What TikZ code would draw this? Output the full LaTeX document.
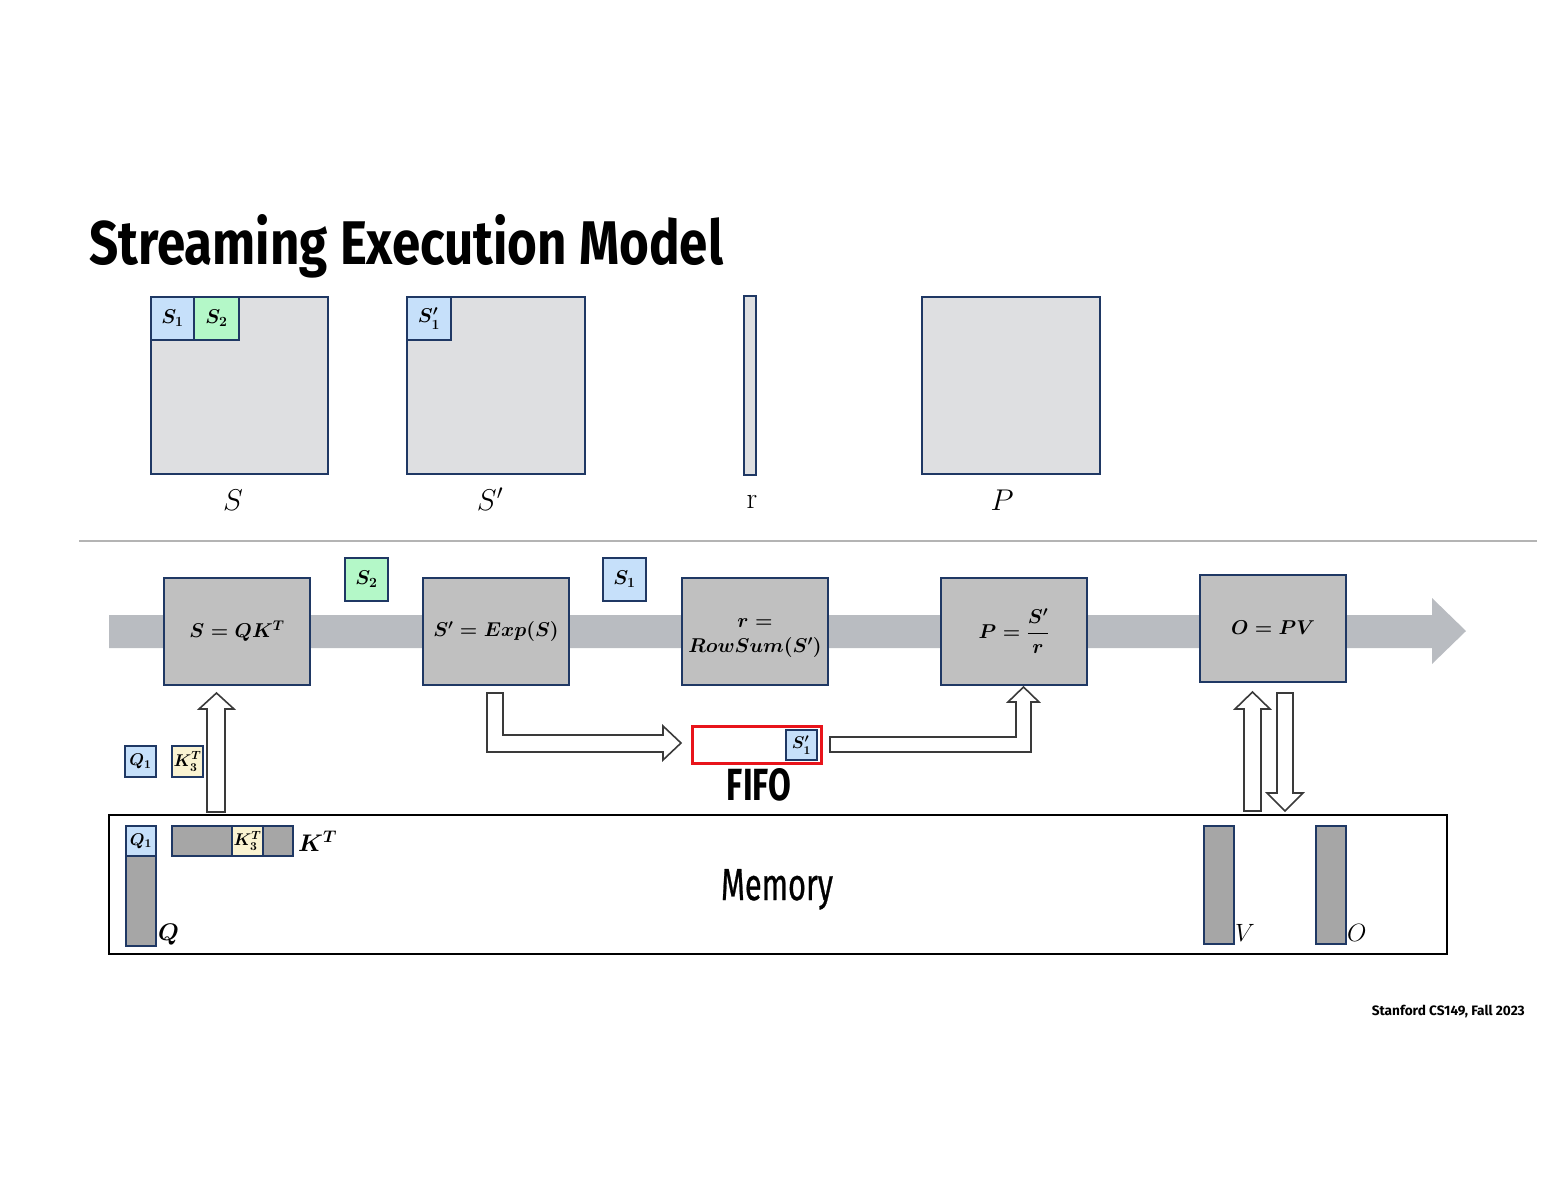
\RequirePackage{fix-cm}
\documentclass[tikz,border=0pt]{standalone}
\usepackage{fontspec}
\usepackage{amsmath}
\usepackage{bm}
\usepackage{graphicx}
\newfontfamily\condfont{Fira Sans}
\newfontfamily\condmed[FakeBold=0.8]{Fira Sans}
\usetikzlibrary{calc}
\definecolor{navy}{HTML}{1F3864}
\definecolor{matfill}{HTML}{DEDFE1}
\definecolor{opfill}{HTML}{C0C0C0}
\definecolor{colfill}{HTML}{A6A6A6}
\definecolor{tokblue}{HTML}{C6E0FA}
\definecolor{tokgreen}{HTML}{B4F8C8}
\definecolor{tokyellow}{HTML}{FAF3D2}
\definecolor{flowgray}{HTML}{B9BCC1}
\definecolor{sepgray}{HTML}{B4B4B4}
\definecolor{fifored}{HTML}{E8141B}
\definecolor{arrowline}{HTML}{3A3A3A}
\begin{document}
\begin{tikzpicture}[x=1pt,y=-1pt,
  mat/.style={draw=navy, line width=2pt, fill=matfill, inner sep=0pt, anchor=north west},
  tok/.style={draw=navy, line width=2pt, inner sep=0pt, anchor=north west,
     font=\boldmath\fontsize{20}{22}\selectfont},
  smalltok/.style={tok, font=\boldmath\fontsize{17}{20}\selectfont},
  col/.style={draw=navy, line width=2pt, fill=colfill, inner sep=0pt, anchor=north west},
  op/.style={draw=navy, line width=2pt, fill=opfill, inner sep=0pt,
     minimum width=146pt, minimum height=107pt, align=center,
     font=\boldmath\fontsize{20}{24}\selectfont},
  optext/.style={inner sep=0pt, align=center, font=\boldmath\fontsize{20}{24}\selectfont},
  harrow/.style={draw=arrowline, line width=1.6pt, fill=white, line join=miter},
  biglabel/.style={font=\fontsize{30}{34}\selectfont, anchor=base, inner sep=0pt},
  memlabel/.style={font=\boldmath\fontsize{24}{28}\selectfont, anchor=base west, inner sep=0pt},
  memlabelthin/.style={font=\fontsize{25}{28}\selectfont, anchor=base west, inner sep=0pt}
]
\useasboundingbox (0,0) rectangle (1553,1200);

% Title
\node[anchor=base west, inner sep=0pt] (title) at (89,264)
  {\resizebox{634pt}{50pt}{\condfont\bfseries Streaming Execution Model}};

% Top matrices
\node[mat, minimum width=177pt, minimum height=177pt] (Smat) at (150,296) {};
\node[tok, fill=tokblue, minimum width=43pt, minimum height=43pt] (Smat1) at (150,296) {$S_1$};
\node[tok, fill=tokgreen, minimum width=45pt, minimum height=43pt] (Smat2) at (193,296) {$S_2$};
\node[biglabel] (Slab) at (233,510) {$S$};

\node[mat, minimum width=178pt, minimum height=177pt] (Spmat) at (406,296) {};
\node[tok, fill=tokblue, minimum width=44pt, minimum height=43pt] (Spmat1) at (406,296) {$S'_1$};
\node[biglabel] (Splab) at (490,510) {$S'$};

\node[mat, minimum width=12pt, minimum height=179pt] (rmat) at (743,295) {};
\node[biglabel] (rlab) at (752,508) {r};

\node[mat, minimum width=178pt, minimum height=177pt] (Pmat) at (921,296) {};
\node[biglabel] (Plab) at (1002,510) {$P$};

% Separator
\draw[sepgray, line width=2pt] (79,541) -- (1537,541);

% Flow arrow
\fill[flowgray] (109,615) -- (1432,615) -- (1432,598) -- (1466,631) -- (1432,664)
  -- (1432,648) -- (109,648) -- cycle;

% Operator boxes
\node[op] (b1) at (237,631.5) {$S = QK^T$};
\node[op] (b2) at (496,631.5) {$S' = Exp(S)$};
\node[op] (b3) at (755,631.5) {};
\node[optext] (b3t) at ($(b3.center)+(0,7)$) {$r =$\\[1pt]$RowSum(S')$};
\node[op] (b4) at (1014,631) {$P = \dfrac{S'}{r}$};
\node[op] (b5) at (1273,628) {$O = PV$};

% Streaming tokens
\node[tok, fill=tokgreen, minimum width=43pt, minimum height=43pt] (tS2) at (344,557) {$S_2$};
\node[tok, fill=tokblue, minimum width=43pt, minimum height=43pt] (tS1) at (602,557) {$S_1$};

\node[smalltok, fill=tokblue, minimum width=31pt, minimum height=31pt] (tQ1) at (124,745) {$Q_1$};
\node[smalltok, fill=tokyellow, minimum width=31pt, minimum height=31pt] (tK3) at (171,745) {$K^T_3$};

% FIFO
\node[draw=fifored, line width=3pt, inner sep=0pt, anchor=north west,
  minimum width=129pt, minimum height=37pt] (fifo) at (691,725) {};
\node[smalltok, fill=tokblue, minimum width=31pt, minimum height=30pt] (fifoS1) at (785,729) {$S'_1$};
\node[anchor=base, inner sep=0pt] (fifolab) at (759,800)
  {\resizebox{64pt}{32pt}{\condfont\bfseries FIFO}};

% Memory
\node[draw=black, line width=2pt, inner sep=0pt, anchor=north west,
  minimum width=1338pt, minimum height=139pt] (mem) at (108,814) {};
\node[anchor=base, inner sep=0pt] (memlab) at (777,900)
  {\resizebox{112pt}{31pt}{\condmed Memory}};

\node[col, minimum width=30pt, minimum height=120pt] (Qcol) at (125,825) {};
\node[smalltok, fill=tokblue, minimum width=30pt, minimum height=30pt] (Qcol1) at (125,825) {$Q_1$};
\node[memlabel] (Qlab) at (158,940) {$Q$};

\node[col, minimum width=121pt, minimum height=30pt] (Krow) at (171,825) {};
\node[smalltok, fill=tokyellow, minimum width=31pt, minimum height=30pt] (Krow3) at (231,825) {$K^T_3$};
\node[memlabel] (Klab) at (298,851) {$K^T$};

\node[col, minimum width=30pt, minimum height=118pt] (Vcol) at (1203,825) {};
\node[memlabelthin] (Vlab) at (1235,941) {$V$};
\node[col, minimum width=30pt, minimum height=118pt] (Ocol) at (1315,825) {};
\node[memlabelthin] (Olab) at (1347,941) {$O$};

% Hollow arrows
\draw[harrow] (207,812) -- (207,709) -- (199,709) -- (216.5,693) -- (234,709)
  -- (225,709) -- (225,812) -- cycle;
\draw[harrow] (487,693) -- (503,693) -- (503,735) -- (663,735) -- (663,726)
  -- (681,743) -- (663,760) -- (663,752) -- (487,752) -- cycle;
\draw[harrow] (830,737) -- (1016,737) -- (1016,702) -- (1008,702) -- (1023.5,687)
  -- (1039,702) -- (1031,702) -- (1031,752) -- (830,752) -- cycle;
\draw[harrow] (1244,811) -- (1244,709) -- (1235,709) -- (1252.5,692) -- (1270,709)
  -- (1261,709) -- (1261,811) -- cycle;
\draw[harrow] (1277,693) -- (1293,693) -- (1293,793) -- (1303,793) -- (1285,811)
  -- (1267,793) -- (1277,793) -- cycle;

% Footer
\node[anchor=base east, inner sep=0pt] (footer) at (1525,1015)
  {\resizebox{153pt}{!}{\condfont\bfseries Stanford CS149, Fall 2023}};
\end{tikzpicture}
\end{document}
